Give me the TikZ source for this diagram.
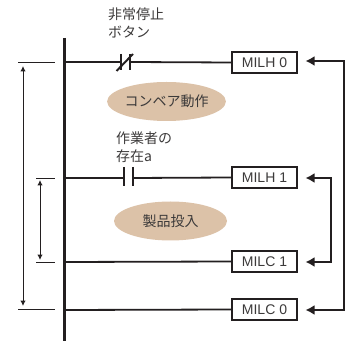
\documentclass[tikz,border=0pt]{standalone}
\usepackage{fontspec}
\setmainfont{Liberation Sans}
\newfontfamily\cjk{Noto Sans CJK JP}
\usetikzlibrary{arrows.meta, shapes.geometric}
\definecolor{mytan}{RGB}{220, 194, 168}
\definecolor{myink}{RGB}{35, 31, 32}
\definecolor{mytext}{RGB}{60, 58, 58}
\tikzset{>=latex}
\tikzset{coil/.style={draw=myink, line width=2.2pt, fill=white, minimum width=65pt, minimum height=21pt, inner sep=0pt, text=mytext, font=\fontsize{14}{14}\selectfont}}
\tikzset{blob/.style={ellipse, fill=mytan, minimum width=113pt, minimum height=39pt, inner sep=0pt, text=mytext, font=\cjk\fontsize{14}{14}\selectfont}}
\tikzset{note/.style={align=left, anchor=north west, inner sep=0pt, text=mytext, font=\cjk\fontsize{14}{18}\selectfont}}
\tikzset{rung/.style={myink, line width=1.8pt}}
\tikzset{tick/.style={myink, line width=0.8pt}}
\tikzset{span/.style={myink, line width=1pt, {Latex[length=5.5pt,width=5.5pt]}-{Latex[length=5.5pt,width=5.5pt]}}}
\tikzset{link/.style={myink, line width=1.8pt, -{Latex[length=9pt,width=10pt]}}}
\begin{document}
\begin{tikzpicture}[x=1pt, y=-1pt]
\useasboundingbox (0,0) rectangle (350,344);
% rails
\coordinate (top) at (64.5,38);
\coordinate (bot) at (64.5,341);
\coordinate (a) at (64.5,62);
\coordinate (b) at (64.5,178);
\coordinate (c) at (64.5,262);
\coordinate (d) at (64.5,310);
\draw[myink, line width=2.3pt] (top) -- (bot);
% coils
\node[coil] (milh0) at (264.5,62.5) {MILH 0\hspace{6pt}};
\node[coil] (milh1) at (264.5,177.5) {MILH 1\hspace{6pt}};
\node[coil] (milc1) at (264.5,261.5) {MILC 1\hspace{6pt}};
\node[coil] (milc0) at (264.5,309.5) {MILC 0\hspace{6pt}};
% rungs
\draw[rung] (a) -- (121,62);
\draw[rung] (130,62) -- (milh0.west);
\draw[rung] (b) -- (124,178);
\draw[rung] (132.7,178) -- (milh1.west);
\draw[rung] (c) -- (milc1.west);
\draw[rung] (d) -- (milc0.west);
% contacts
\draw[myink, line width=2pt] (121,54) -- (121,70);
\draw[myink, line width=2pt] (130,54) -- (130,70);
\draw[myink, line width=2pt] (116.5,71) -- (133,54);
\draw[myink, line width=2pt] (124,167) -- (124,186);
\draw[myink, line width=2pt] (132.7,167) -- (132.7,186);
% labels
\node[note] (stop) at (108,8) {非常停止\\ボタン};
\node[note] (worker) at (116,132) {作業者の\\存在a};
\node[blob] (conv) at (166.5,101.5) {コンベア動作};
\node[blob] (feed) at (170.5,221) {製品投入};
% feedback
\coordinate (ot) at (344,61);
\coordinate (ob) at (344,310);
\coordinate (it) at (331,178);
\coordinate (ib) at (331,262);
\draw[link] (ot) -- ++(-38.5,0);
\draw[link] (ob) -- ++(-38.5,0);
\draw[link] (it) -- ++(-25.5,0);
\draw[link] (ib) -- ++(-25.5,0);
\draw[myink, line width=1.8pt, line cap=rect] (ot) -- (ob);
\draw[myink, line width=1.8pt, line cap=rect] (it) -- (ib);
% dimensions
\draw[tick] (18,62.5) -- (55,62.5);
\draw[tick] (18,309.5) -- (55,309.5);
\draw[tick] (36,178) -- (55,178);
\draw[tick] (36,262) -- (55,262);
\draw[span] (23,66) -- (23,306);
\draw[span] (40,180) -- (40,260);
\end{tikzpicture}
\end{document}
